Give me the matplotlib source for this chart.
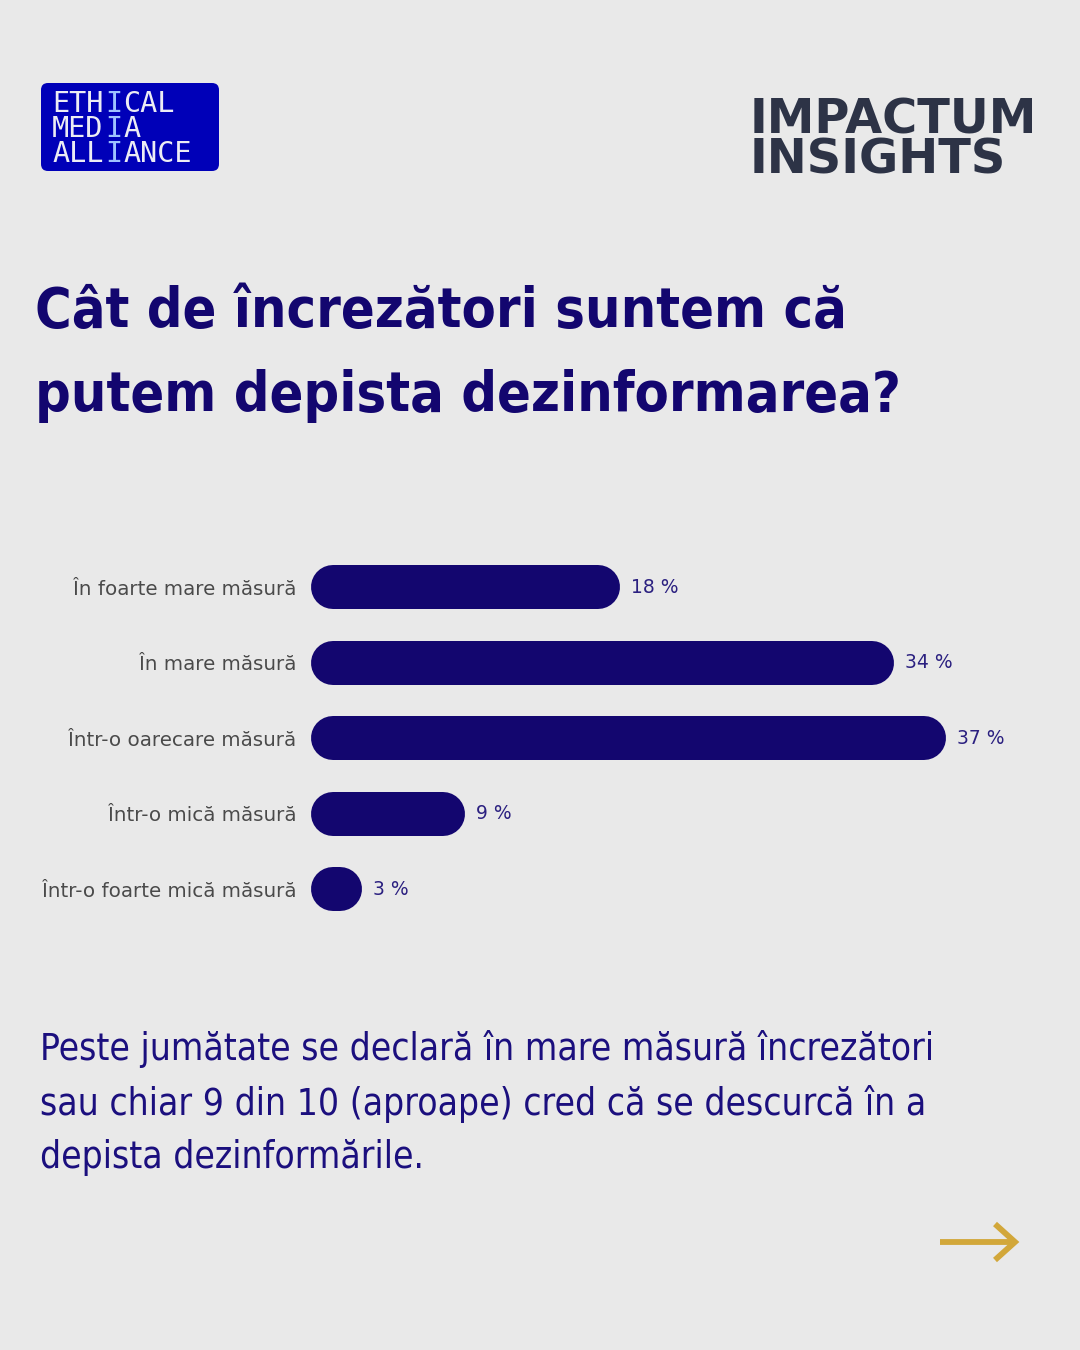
import numpy as np
import matplotlib
matplotlib.use("Agg")
import matplotlib.pyplot as plt
import matplotlib.patches as pat
from matplotlib import font_manager as fm

# --- data ---
categories = ["În foarte mare măsură", "În mare măsură", "Într-o oarecare măsură",
              "Într-o mică măsură", "Într-o foarte mică măsură"]
values = [18, 34, 37, 9, 3]
value_labels = ["18 %", "34 %", "37 %", "9 %", "3 %"]

title_lines = ["Cât de încrezători suntem că", "putem depista dezinformarea?"]
body_lines = ["Peste jumătate se declară în mare măsură încrezători",
              "sau chiar 9 din 10 (aproape) cred că se descurcă în a",
              "depista dezinformările."]
logo_lines = ["ETHICAL", "MEDIA", "ALLIANCE"]
brand_lines = ["IMPACTUM", "INSIGHTS"]

# --- colours ---
bg = "#e9e9e9"
navy = "#13066f"
label_navy = "#2b2080"
gray = "#4a4a4a"
logo_blue = "#0000b8"
gold = "#d2a73a"

# narrow font (DejaVu Sans Condensed if present)
fonts = fm.fontManager.ttflist
cond = [f for f in fonts if f.name == "DejaVu Sans" and "ondensed" in f.fname]
stretch = "condensed" if cond else "normal"

fig = plt.figure(figsize=(10.8, 13.5), dpi=100, facecolor=bg)
fig.canvas.draw()
r = fig.canvas.get_renderer()

# overlay in pixel coords (y down)
ov = fig.add_axes([0, 0, 1, 1])
ov.set_xlim(0, 1080)
ov.set_ylim(1350, 0)
ov.axis("off")
ov.set_facecolor("none")


def fit(t, width_px):
    w = t.get_window_extent(r).width
    t.set_fontsize(t.get_fontsize() * width_px / w)


def block(x, y_first, lines, gap, **kw):
    # multi-line text: first baseline at y_first, baselines gap px apart
    n = len(lines) - 1
    t = ov.text(x, y_first + n * gap, "\n".join(lines), va="baseline", **kw)
    return t


def spacing(t, target_px):
    n = t.get_text().count("\n")
    one = ov.text(0, 0, t.get_text().split("\n")[0], fontproperties=t.get_fontproperties().copy())
    hs = one.get_window_extent(r).height
    one.remove()
    t.set_linespacing(0.0)
    sp0 = (t.get_window_extent(r).height - hs) / n
    t.set_linespacing(1.0)
    sp1 = (t.get_window_extent(r).height - hs) / n
    t.set_linespacing((target_px - sp0) / (sp1 - sp0))


# logo box
box = pat.FancyBboxPatch((41, 83), 178, 88, boxstyle="round,pad=0,rounding_size=7",
                         facecolor=logo_blue, edgecolor="none")
ov.add_patch(box)
char_w = 17.75
cols = [([w[:3] for w in logo_lines], 0, "#ececf4"),
        ([w[3] for w in logo_lines], 3, "#9fc2ff"),
        ([w[4:] for w in logo_lines], 4, "#ececf4")]
for lines, c0, col in cols:
    t = block(52 + c0 * char_w, 112, lines, 25, family="DejaVu Sans Mono",
              fontsize=20.5, color=col, ha="left")
    spacing(t, 25)

# brand
brand = block(750, 133, brand_lines, 40, family="DejaVu Sans", weight="bold",
              fontsize=31, color="#2d3346", ha="left")
fit(brand, 288)
spacing(brand, 40)

# title
title = block(35, 327, title_lines, 84, family="DejaVu Sans", fontstretch=stretch,
              weight="bold", fontsize=58, color=navy)
fit(title, 865)
spacing(title, 84)

# body
body = block(40, 1060, body_lines, 54, family="DejaVu Sans", fontstretch=stretch,
             fontsize=34, color="#1b0f7e")
fit(body, 895)
spacing(body, 54)

# arrow
ov.plot([940, 1014], [1242, 1242], color=gold, lw=4.2, solid_capstyle="butt")
ov.plot([995, 1015, 995], [1224, 1242, 1260], color=gold, lw=4.2,
        solid_joinstyle="miter", solid_capstyle="butt")

# --- bars ---
px_per_unit = 17.16
row_px = 75.5
ax_w = 700
ax = fig.add_axes([311 / 1080, 1 - (549.5 + 5 * row_px) / 1350,
                   ax_w / 1080, 5 * row_px / 1350])
ax.set_facecolor("none")
ax.set_xlim(0, ax_w / px_per_unit)
ax.set_ylim(4.5, -0.5)
cap = 22 / px_per_unit
lw = 44 * 72 / 100
for i, v in enumerate(values):
    ax.plot([cap, v - cap], [i, i], color=navy, lw=lw, solid_capstyle="round")
    ax.text(v + 11 / px_per_unit, i, value_labels[i], color=label_navy,
            family="DejaVu Sans", fontsize=13.5, va="center", ha="left")
ax.set_yticks(range(len(categories)), categories, family="DejaVu Sans",
              fontsize=14.3, color=gray)
ax.tick_params(axis="y", length=0, pad=10.8)
ax.set_xticks([])
for s in ax.spines.values():
    s.set_visible(False)

fig.savefig("out.png", dpi=100, facecolor=bg)
